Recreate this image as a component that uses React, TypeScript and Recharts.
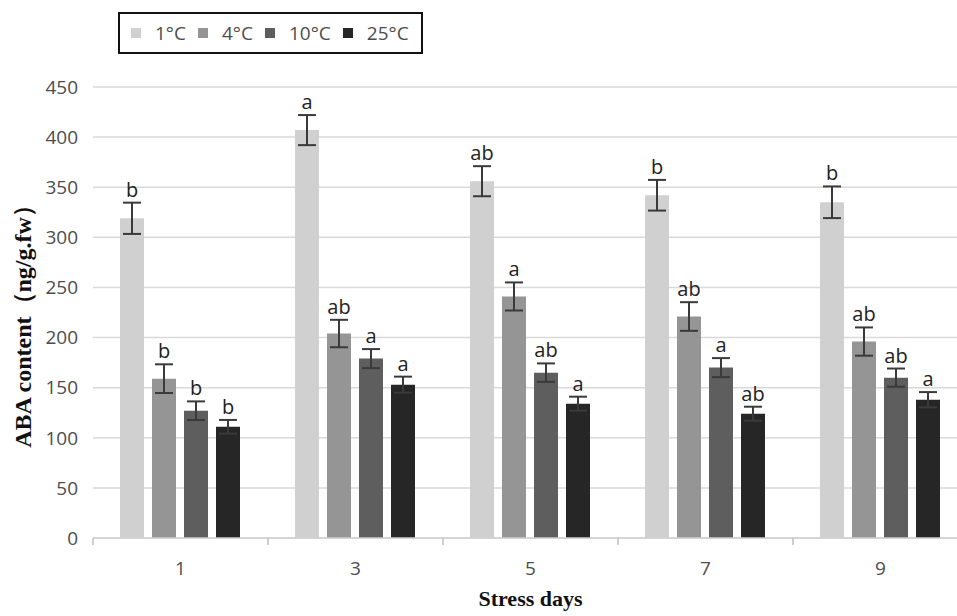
import { Bar, BarChart, CartesianGrid, ErrorBar, LabelList, Legend, XAxis, YAxis } from "recharts";

const days = ["1", "3", "5", "7", "9"];
const series = ["1°C", "4°C", "10°C", "25°C"];
const colors = ["#d0d0d0", "#959595", "#5e5e5e", "#262626"];

const aba1 = [319, 407, 356, 342, 335];
const aba4 = [159, 204, 241, 221, 196];
const aba10 = [127, 179, 165, 170, 160];
const aba25 = [111, 153, 134, 124, 138];

const err1 = [15.6, 15, 15, 15.3, 15.8];
const err4 = [14.3, 13.7, 14, 14.3, 14.1];
const err10 = [9.3, 9.5, 9.2, 9.5, 9.1];
const err25 = [6.8, 8, 7, 7, 7.6];

const sig1 = ["b", "a", "ab", "b", "b"];
const sig4 = ["b", "ab", "a", "ab", "ab"];
const sig10 = ["b", "a", "ab", "a", "ab"];
const sig25 = ["b", "a", "a", "ab", "a"];

const yTicks = [0, 50, 100, 150, 200, 250, 300, 350, 400, 450];

const values = [aba1, aba4, aba10, aba25];
const errors = [err1, err4, err10, err25];
const letters = [sig1, sig4, sig10, sig25];

const data = days.map((day, i) => {
  const row: Record<string, string | number> = { day };
  values.forEach((v, s) => {
    row[`v${s}`] = v[i];
    row[`e${s}`] = errors[s][i];
    row[`l${s}`] = letters[s][i];
  });
  return row;
});

const W = 976;
const H = 616;
const margin = { top: 87, right: 8, bottom: 8, left: 8 };
const yAxisWidth = 85;
const band = (W - margin.left - margin.right - yAxisWidth) / days.length;

const tickFont = "'Open Sans', sans-serif";

function DayTick(props: any) {
  const { x, y, payload } = props;
  const left = x - band / 2;
  return (
    <g>
      <line x1={left} x2={left} y1={y} y2={y + 7} stroke="#bfbfbf" strokeWidth={1.5} />
      <text x={x} y={y + 37} textAnchor="middle" fontSize={19} fontFamily={tickFont} fill="#4d4d4d">
        {payload.value}
      </text>
    </g>
  );
}

function letterLabel(s: number) {
  return (props: any) => {
    const vb = props.viewBox ?? props;
    const idx = props.index ?? 0;
    const { x, y, width, height } = vb;
    const pxPerUnit = height / values[s][idx];
    const top = y - errors[s][idx] * pxPerUnit;
    return (
      <text x={x + width / 2} y={top - 6} textAnchor="middle" fontSize={20} fontFamily={tickFont} fill="#222">
        {props.value}
      </text>
    );
  };
}

function LegendBox() {
  return (
    <div
      style={{
        boxSizing: "border-box",
        width: 305,
        height: 42,
        border: "2px solid #111",
        display: "flex",
        alignItems: "center",
        paddingLeft: 11,
        background: "#fff",
        fontFamily: tickFont,
        fontSize: 19,
        color: "#4d4d4d",
      }}
    >
      {series.map((name, i) => (
        <div key={name} style={{ display: "flex", alignItems: "center", marginRight: 12 }}>
          <span style={{ width: 10, height: 10, background: colors[i], marginRight: 14, display: "inline-block" }} />
          <span>{name}</span>
        </div>
      ))}
    </div>
  );
}

function YTitle(props: any) {
  const vb = props.viewBox;
  const cx = vb.x + 15;
  const cy = vb.y + vb.height / 2 + 8;
  return (
    <text
      transform={`translate(${cx}, ${cy}) rotate(-90)`}
      textAnchor="middle"
      dominantBaseline="central"
      fontSize={24}
      fontWeight="bold"
      fontFamily="'Liberation Serif', serif"
      fill="#111"
    >
      ABA content（ng/g.fw）
    </text>
  );
}

export default function App() {
  return (
    <div style={{ position: "absolute", left: 0, top: 0, width: 957, height: 616, overflow: "hidden", background: "#fff" }}>
      <BarChart width={W} height={H} data={data} margin={margin} barCategoryGap={27} barGap={8}>
        <CartesianGrid vertical={false} stroke="#d9d9d9" strokeWidth={1.5} />
        <XAxis
          dataKey="day"
          height={70}
          stroke="#d0d0d0"
          strokeWidth={1.5}
          tickLine={false}
          tickSize={0}
          tickMargin={0}
          tick={<DayTick />}
          label={{
            value: "Stress days",
            position: "insideBottom",
            offset: 2,
            fontSize: 22,
            fontWeight: "bold",
            fontFamily: "'Liberation Serif', serif",
            fill: "#111",
          }}
        />
        <YAxis
          width={yAxisWidth}
          domain={[0, 450]}
          ticks={yTicks}
          axisLine={false}
          tickLine={false}
          tickSize={0}
          tickMargin={15}
          tick={{ fontSize: 19, fontFamily: tickFont, fill: "#4d4d4d" }}
          label={<YTitle />}
        />
        <Legend
          verticalAlign="middle"
          align="center"
          wrapperStyle={{ top: 12, left: 118, width: "auto", height: "auto" }}
          content={() => <LegendBox />}
        />
        {series.map((name, s) => (
          <Bar key={name} dataKey={`v${s}`} name={name} fill={colors[s]} isAnimationActive={false}>
            <ErrorBar dataKey={`e${s}`} width={9} stroke="#3a3a3a" strokeWidth={2} direction="y" />
            <LabelList dataKey={`l${s}`} content={letterLabel(s)} />
          </Bar>
        ))}
      </BarChart>
    </div>
  );
}
